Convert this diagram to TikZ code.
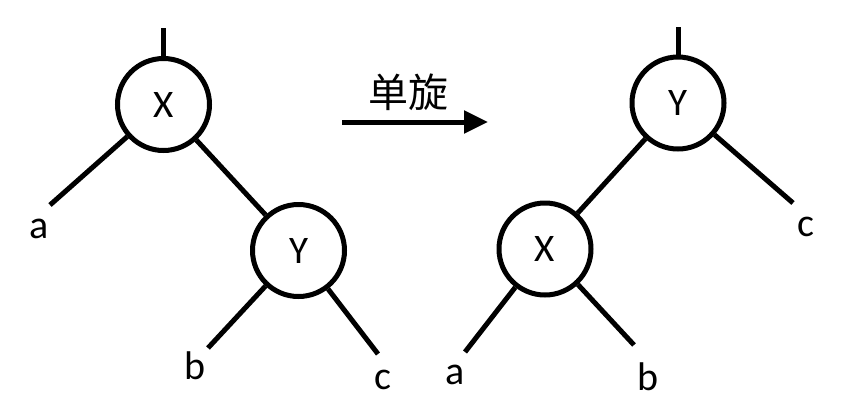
\documentclass[tikz,border=0pt]{standalone}
\usepackage{fontspec}
\setmainfont{Carlito}
\newfontfamily\cjk{Noto Sans CJK SC}
\usetikzlibrary{arrows.meta}
\begin{document}
\begin{tikzpicture}[x=1pt,y=-1pt,
  treenode/.style={circle,draw,line width=5pt,minimum size=92pt,inner sep=0pt,font=\fontsize{39}{41}\selectfont},
  leaf/.style={inner sep=0pt,font=\fontsize{40}{42}\selectfont},
  edge/.style={line width=5pt}]
\useasboundingbox (0,0) rectangle (867,416);
% left tree
\node[treenode] (X1) at (163.5,104.5) {X};
\node[treenode] (Y1) at (298.5,250.5) {Y};
\coordinate (X1top) at (163.5,28);
\coordinate (a1end) at (50,205);
\coordinate (b1end) at (208,348);
\coordinate (c1end) at (378,354);
\draw[edge] (X1.north) -- (X1top);
\draw[edge] (X1) -- (a1end);
\draw[edge] (X1) -- (Y1);
\draw[edge] (Y1) -- (b1end);
\draw[edge] (Y1) -- (c1end);
\node[leaf] (a1) at (39.5,229) {a};
\node[leaf] (b1) at (195,366) {b};
\node[leaf] (c1) at (383,380) {c};
% arrow
\coordinate (arrS) at (342,122);
\coordinate (arrE) at (488,122);
\draw[line width=5pt,-{Triangle[length=24pt,width=22pt]}] (arrS) -- (arrE);
\node[inner sep=0pt,font=\cjk\fontsize{40}{42}\selectfont] (lbl) at (408,92) {单旋};
% right tree
\node[treenode] (Y2) at (678,103) {Y};
\node[treenode] (X2) at (545,249) {X};
\coordinate (Y2top) at (678,27);
\coordinate (c2end) at (793,203);
\coordinate (a2end) at (465,352);
\coordinate (b2end) at (634,345);
\draw[edge] (Y2.north) -- (Y2top);
\draw[edge] (Y2) -- (X2);
\draw[edge] (Y2) -- (c2end);
\draw[edge] (X2) -- (a2end);
\draw[edge] (X2) -- (b2end);
\node[leaf] (c2) at (806,227) {c};
\node[leaf] (a2) at (455,375) {a};
\node[leaf] (b2) at (648,377) {b};
\end{tikzpicture}
\end{document}
